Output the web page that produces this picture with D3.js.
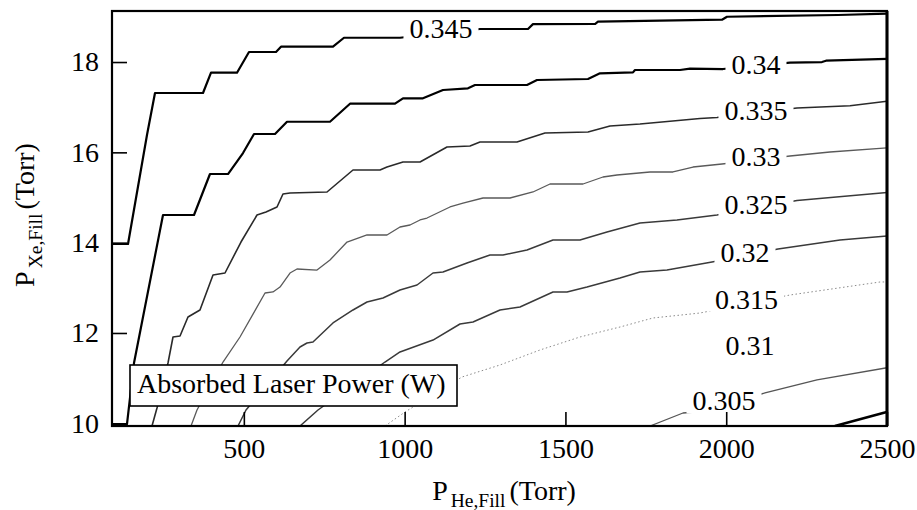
<!DOCTYPE html>
<html>
<head>
<meta charset="utf-8">
<script src="https://cdn.jsdelivr.net/npm/d3@7"></script>
<style>
  html, body { margin: 0; padding: 0; background: #fff; }
  svg { display: block; }
  text { font-family: "Liberation Serif", "Times New Roman", serif; fill: #000; }
</style>
</head>
<body>
<svg id="chart" width="917" height="510"></svg>
<script>
// Absorbed laser power (W) contours over He and Xe fill pressures (Torr).
// Each contour is a list of [P_He, P_Xe] points.
const contour345 = [[90,13.97],[139.8,13.97],[198.8,16.384],[223.7,17.314],[373,17.314],[397.9,17.764],[478.7,17.764],[516,18.222],[600,18.222],[615.5,18.339],[777.2,18.339],[811.4,18.538],[985.6,18.538],[1234.3,18.731],[1383.6,18.731],[1399.1,18.84],[1591.9,18.842],[1601.2,18.893],[1986.9,18.937],[2002.4,19.003],[2347.6,19.041],[2500,19.074]];
const contour340 = [[90,9.962],[136.6,9.984],[158.4,11.335],[248.6,14.612],[345,14.612],[394.7,15.52],[450.7,15.52],[497.4,15.985],[531.6,16.406],[596.9,16.406],[634.2,16.678],[767.9,16.678],[830.1,17.077],[970,17.077],[994.9,17.197],[1057,17.197],[1119.3,17.381],[1197,17.418],[1218.8,17.491],[1380.5,17.491],[1411.6,17.602],[1570.2,17.624],[1607.5,17.75],[1710.1,17.77],[1716.3,17.823],[1856.3,17.823],[1887.4,17.852],[1990,17.845],[2198.3,17.985],[2297.8,18.0],[2310.3,18.029],[2500,18.07]];
const contour335 = [[214.4,9.94],[229.9,10.339],[264.1,11.335],[279.7,11.911],[301.5,11.933],[326.3,12.354],[363.6,12.509],[404.1,13.284],[441.4,13.328],[491.1,14.014],[540.9,14.612],[568.9,14.679],[603.1,14.79],[621.7,15.077],[643.5,15.1],[758.6,15.122],[839.4,15.609],[923.4,15.609],[945.1,15.675],[994.9,15.786],[1047.8,15.786],[1131.7,16.118],[1203.2,16.14],[1234.3,16.229],[1349.4,16.229],[1436.5,16.428],[1570.2,16.451],[1638.6,16.583],[1731.9,16.627],[1918.4,16.75],[1971.3,16.772],[2220.1,16.982],[2385,17.033],[2500,17.13]];
const contour330 = [[335.7,9.94],[354.3,10.294],[435.2,11.357],[488,11.911],[565.8,12.885],[590.6,12.908],[612.4,13.018],[643.5,13.328],[665.3,13.417],[727.5,13.394],[767.9,13.616],[820.8,14.014],[883,14.17],[945.1,14.17],[985.6,14.347],[1016.7,14.391],[1047.8,14.502],[1069.5,14.546],[1141,14.79],[1181.5,14.878],[1243.7,14.989],[1327.6,14.989],[1399.1,15.122],[1452,15.299],[1554.6,15.299],[1616.8,15.454],[1660.3,15.498],[1763,15.565],[1834.5,15.565],[1896.7,15.675],[1986.9,15.742],[2198.3,15.919],[2322.7,16.008],[2500,16.1]];
const contour325 = [[481.8,9.94],[506.7,10.294],[634.2,11.379],[674.6,11.689],[696.4,11.778],[715,11.8],[777.2,12.221],[839.4,12.509],[883,12.686],[932.7,12.774],[985.6,12.952],[1038.5,13.062],[1088.2,13.328],[1119.3,13.35],[1193.9,13.549],[1265.4,13.727],[1305.9,13.727],[1380.5,13.837],[1461.3,14.059],[1545.3,14.059],[1629.3,14.236],[1731.9,14.435],[1846.9,14.502],[1971.3,14.612],[2220.1,14.934],[2500,15.11]];
const contour320 = [[674.6,9.94],[730.6,10.294],[938.9,11.357],[985.6,11.579],[1088.2,11.844],[1172.1,12.199],[1212.6,12.243],[1296.5,12.509],[1358.7,12.575],[1461.3,12.908],[1504.9,12.908],[1567.1,13.018],[1669.7,13.217],[1731.9,13.35],[1815.8,13.394],[1955.8,13.572],[2161,13.86],[2353.9,14.059],[2500,14.15]];
const contour315 = [[938.9,9.94],[1001.1,10.25],[1178.3,11.025],[1296.5,11.291],[1420.9,11.623],[1545.3,11.911],[1669.7,12.132],[1772.3,12.332],[1918.4,12.442],[2198.3,12.841],[2478.3,13.129],[2500,13.13]];
const contour305 = [[1763,9.94],[1865.6,10.228],[1902.9,10.25],[2120.6,10.671],[2282.3,10.959],[2500,11.23]];
const contour300 = [[2338,9.94],[2487.6,10.228],[2500,10.25]];

// Inline contour labels: level and the [P_He, P_Xe] point it sits on
const labelLevels = [0.345, 0.34, 0.335, 0.33, 0.325, 0.32, 0.315, 0.31, 0.305];
const labelHe     = [1113, 2092.6, 2092.6, 2092.6, 2092.6, 2058.4, 2063, 2073.9, 1993.1];
const labelXe     = [18.753, 17.956, 16.916, 15.897, 14.834, 13.782, 12.752, 11.712, 10.494];

const xTicks = [500, 1000, 1500, 2000, 2500];
const yTicks = [10, 12, 14, 16, 18];
const legendText = "Absorbed Laser Power (W)";

// ---- layout ----
const plot = { left: 112, top: 11, right: 887, bottom: 426 };
const x = d3.scaleLinear().domain([90, 2500]).range([plot.left, plot.right]);
const y = d3.scaleLinear().domain([9.94, 19.13]).range([plot.bottom, plot.top]);

const series = [
  { level: 0.345, pts: contour345 },
  { level: 0.34,  pts: contour340 },
  { level: 0.335, pts: contour335 },
  { level: 0.33,  pts: contour330 },
  { level: 0.325, pts: contour325 },
  { level: 0.32,  pts: contour320 },
  { level: 0.315, pts: contour315 },
  { level: 0.305, pts: contour305 },
  { level: 0.30,  pts: contour300 }
];
const styleFor = {
  0.345: { stroke: "#000",    width: 2.2 },
  0.34:  { stroke: "#000",    width: 2.2 },
  0.335: { stroke: "#2a2a2a", width: 1.6 },
  0.33:  { stroke: "#5a5a5a", width: 1.3 },
  0.325: { stroke: "#3a3a3a", width: 1.5 },
  0.32:  { stroke: "#3a3a3a", width: 1.5 },
  0.315: { stroke: "#8a8a8a", width: 1.0, dash: "1.5 2.5" },
  0.305: { stroke: "#555",    width: 1.3 },
  0.30:  { stroke: "#000",    width: 2.6 }
};

const svg = d3.select("#chart");
svg.append("rect").attr("width", 917).attr("height", 510).attr("fill", "#fff");

svg.append("defs").append("clipPath").attr("id", "plotClip")
  .append("rect")
  .attr("x", plot.left).attr("y", plot.top)
  .attr("width", plot.right - plot.left).attr("height", plot.bottom - plot.top);

const line = d3.line().x(d => x(d[0])).y(d => y(d[1]));

const gLines = svg.append("g").attr("clip-path", "url(#plotClip)");
gLines.selectAll("path.contour")
  .data(series)
  .join("path")
  .attr("class", "contour")
  .attr("d", d => line(d.pts))
  .attr("fill", "none")
  .attr("stroke", d => styleFor[d.level].stroke)
  .attr("stroke-width", d => styleFor[d.level].width)
  .attr("stroke-dasharray", d => styleFor[d.level].dash || null)
  .attr("stroke-linejoin", "round");

// inline labels with a white knock-out behind the text
const gLabels = svg.append("g");
labelLevels.forEach((lv, i) => {
  const g = gLabels.append("g");
  const t = g.append("text")
    .attr("x", x(labelHe[i]))
    .attr("y", y(labelXe[i]))
    .attr("text-anchor", "middle")
    .attr("dominant-baseline", "central")
    .style("font-size", "28px")
    .text(String(lv));
  const bb = t.node().getBBox();
  g.insert("rect", "text")
    .attr("x", bb.x - 6).attr("y", bb.y + 3)
    .attr("width", bb.width + 12).attr("height", bb.height - 6)
    .attr("fill", "#fff");
});

// axes with inward ticks
const xAxis = d3.axisBottom(x).tickValues(xTicks).tickFormat(d3.format("d"))
  .tickSizeInner(-14).tickSizeOuter(0).tickPadding(12);
const yAxis = d3.axisLeft(y).tickValues(yTicks).tickFormat(d3.format("d"))
  .tickSizeInner(-15).tickSizeOuter(0).tickPadding(13);

const gx = svg.append("g").attr("transform", `translate(0,${plot.bottom})`).call(xAxis);
const gy = svg.append("g").attr("transform", `translate(${plot.left},0)`).call(yAxis);
[gx, gy].forEach(g => {
  g.select(".domain").remove();
  g.selectAll(".tick line").attr("stroke", "#000").attr("stroke-width", 1.6);
  g.selectAll(".tick text")
    .style("font-family", '"Liberation Serif", "Times New Roman", serif')
    .style("font-size", "28px").attr("fill", "#000");
});

// frame
svg.append("rect")
  .attr("x", plot.left).attr("y", plot.top)
  .attr("width", plot.right - plot.left).attr("height", plot.bottom - plot.top)
  .attr("fill", "none").attr("stroke", "#000").attr("stroke-width", 2.2);
svg.append("line")
  .attr("x1", plot.right).attr("x2", plot.right)
  .attr("y1", plot.top).attr("y2", plot.bottom)
  .attr("stroke", "#000").attr("stroke-width", 3);

// legend box
const lg = svg.append("g");
lg.append("rect")
  .attr("x", 130).attr("y", 365).attr("width", 327).attr("height", 41)
  .attr("fill", "#fff").attr("stroke", "#000").attr("stroke-width", 1.6);
lg.append("text")
  .attr("x", 137).attr("y", 393)
  .style("font-size", "28px")
  .text(legendText);

// axis titles
const xt = svg.append("text")
  .attr("x", 504).attr("y", 500)
  .attr("text-anchor", "middle")
  .style("font-size", "28px");
xt.append("tspan").text("P");
xt.append("tspan").attr("dx", 3).attr("dy", 7).style("font-size", "19.5px").text("He,Fill");
xt.append("tspan").attr("dx", 4).attr("dy", -7).text("(Torr)");

const yt = svg.append("text")
  .attr("transform", "translate(34,215) rotate(-90)")
  .attr("text-anchor", "middle")
  .style("font-size", "28px");
yt.append("tspan").text("P");
yt.append("tspan").attr("dx", 3).attr("dy", 8).style("font-size", "19.5px").text("Xe,Fill");
yt.append("tspan").attr("dx", 4).attr("dy", -8).text("(Torr)");
</script>
</body>
</html>
